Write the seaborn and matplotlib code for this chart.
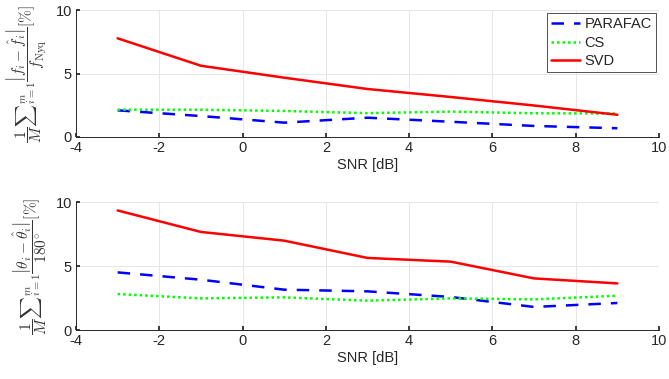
import numpy as np
import pandas as pd
import matplotlib
matplotlib.use("Agg")
import matplotlib.pyplot as plt
import seaborn as sns

snr = [-3, -1, 1, 3, 5, 7, 9]
methods = ["PARAFAC", "CS", "SVD"]

freq_parafac = [2.1, 1.65, 1.13, 1.52, 1.2, 0.87, 0.69]
freq_cs = [2.15, 2.15, 2.05, 1.88, 2.0, 1.87, 1.85]
freq_svd = [7.77, 5.61, 4.67, 3.78, 3.15, 2.48, 1.75]

ang_parafac = [4.5, 3.93, 3.15, 3.02, 2.58, 1.8, 2.11]
ang_cs = [2.81, 2.47, 2.55, 2.29, 2.47, 2.39, 2.68]
ang_svd = [9.34, 7.66, 6.98, 5.63, 5.34, 4.03, 3.64]

colors = {"PARAFAC": "#0000ff", "CS": "#00ff00", "SVD": "#ff0000"}
styles = {"PARAFAC": (0, (5, 4)), "CS": (0, (1, 1.2)), "SVD": "-"}

sns.set_theme(style="whitegrid")
plt.rcParams["font.family"] = ["Liberation Sans", "DejaVu Sans"]
plt.rcParams["mathtext.fontset"] = "cm"
plt.rcParams["axes.unicode_minus"] = False

fig = plt.figure(figsize=(6.69, 3.79), dpi=100)
ax1 = fig.add_axes([76 / 669, 1 - 137 / 379, 583 / 669, 127 / 379])
ax2 = fig.add_axes([76 / 669, 1 - 330 / 379, 583 / 669, 128 / 379])

def build(vals):
    rows = []
    for m, v in zip(methods, vals):
        for x, y in zip(snr, v):
            rows.append({"SNR": x, "val": y, "method": m})
    return pd.DataFrame(rows)

df1 = build([freq_parafac, freq_cs, freq_svd])
df2 = build([ang_parafac, ang_cs, ang_svd])

for ax, df in [(ax1, df1), (ax2, df2)]:
    for m in methods:
        sub = df[df["method"] == m]
        sns.lineplot(data=sub, x="SNR", y="val", ax=ax, color=colors[m],
                     linestyle=styles[m], linewidth=1.8, label=m)
    ax.set_xlim(-4, 10)
    ax.set_ylim(0, 10)
    ax.set_xticks(range(-4, 11, 2))
    ax.set_yticks([0, 5, 10])
    ax.set_xlabel("SNR [dB]", fontsize=10.5, color="#262626", labelpad=2)
    ax.tick_params(axis="both", labelsize=10.5, colors="#262626", length=3,
                   direction="in", pad=3)
    ax.tick_params(axis="both", which="both", bottom=True, left=True)
    ax.grid(True, color="#e6e6e6", linewidth=0.7)
    for s in ["top", "right"]:
        ax.spines[s].set_visible(False)
    for s in ["left", "bottom"]:
        ax.spines[s].set_color("#262626")
        ax.spines[s].set_linewidth(0.7)
    ax.set_facecolor("white")

ax1.set_ylabel(r"$\dfrac{1}{M}{\sum}_{i=1}^{m}\dfrac{\left|f_i-\hat{f}_i\right|}{f_{\mathrm{Nyq}}}[\%]$",
               fontsize=11, color="#333333", labelpad=5)
ax2.set_ylabel(r"$\dfrac{1}{M}{\sum}_{i=1}^{m}\dfrac{\left|\theta_i-\hat{\theta}_i\right|}{180^{\circ}}[\%]$",
               fontsize=11, color="#333333", labelpad=5)

leg = ax1.legend(loc="upper right", fontsize=10.5, frameon=True, fancybox=False,
                 handlelength=2.0, handletextpad=0.3, borderpad=0.3,
                 labelspacing=0.3, borderaxespad=0.2)
leg.get_frame().set_edgecolor("#262626")
leg.get_frame().set_linewidth(0.7)
if ax2.get_legend():
    ax2.get_legend().remove()

fig.savefig("out.png", dpi=100, facecolor="white")
